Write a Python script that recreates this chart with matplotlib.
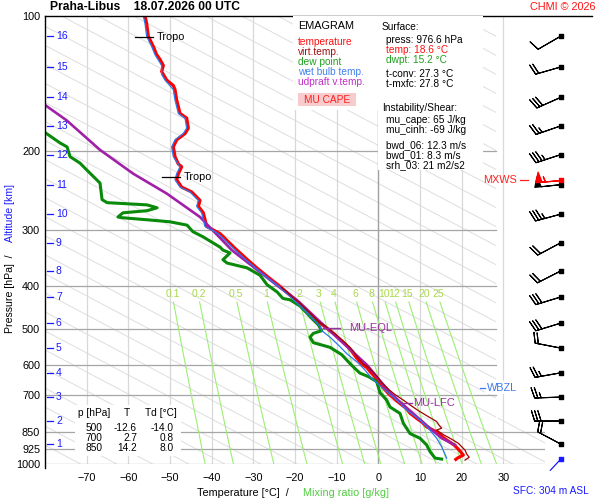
import numpy as np
import matplotlib
matplotlib.use("Agg")
import matplotlib.pyplot as plt
from matplotlib.patches import Polygon, Rectangle
from matplotlib.lines import Line2D
from matplotlib.transforms import blended_transform_factory

plt.rcParams['font.family'] = ['Liberation Sans', 'DejaVu Sans']

# ---- sounding data ----
temp_p = [976.6, 970, 955, 931, 907, 899, 884, 870, 850, 826, 808, 791, 770, 750, 738, 720,
          700, 683, 666, 655, 639, 625, 610, 598, 577, 560, 549, 534, 515, 497, 482, 460,
          437, 420, 403, 383, 366, 350, 330, 306, 295, 275, 266, 258, 247, 241, 232, 225,
          217, 214, 206, 196, 189, 183, 178, 169, 168, 165, 154, 146, 143, 139, 135, 133,
          129, 125, 122, 117, 111, 104, 100]
temp_t = [18.6, 19.0, 20.4, 19.4, 18.2, 17.6, 16.4, 15.4, 14.2, 11.6, 10.6, 9.2, 7.6, 6.6, 5.6, 4.2,
          2.7, 1.6, 0.6, -0.1, -0.8, -1.8, -2.7, -4.0, -5.4, -6.4, -7.2, -8.5, -10.4, -12.4, -14.4, -16.6,
          -19.0, -21.2, -23.4, -26.4, -29.0, -31.4, -34.4, -38.0, -41.2, -42.0, -43.2, -42.8, -44.8, -47.2, -48.4, -48.0,
          -47.2, -48.0, -48.8, -49.2, -48.4, -46.4, -45.6, -46.0, -46.4, -47.6, -48.4, -48.8, -49.2, -50.8, -51.6, -52.0,
          -51.6, -52.4, -53.2, -54.0, -55.2, -55.6, -56.0]

virt_p = [980, 966, 950, 931, 899, 876, 860, 840, 832, 820, 804, 784, 760, 738, 720, 700, 683,
          666, 655, 639, 625, 610, 598, 577, 560, 549, 534, 515, 497, 482, 460, 437, 420, 403]
virt_t = [20.8, 21.8, 21.2, 20.8, 19.2, 17.2, 15.6, 14.0, 15.2, 14.6, 14.0, 12.0, 9.6, 7.6, 6.0, 4.0, 2.6,
          1.4, 0.6, -0.2, -1.2, -2.2, -3.6, -5.0, -6.0, -6.8, -8.2, -10.1, -12.1, -14.2, -16.4, -18.9, -21.1, -23.3]

dwpt_p = [975, 970, 938, 907, 876, 855, 811, 771, 746, 720, 693, 655, 638, 627, 617, 602, 586, 570,
          549, 536, 521, 511, 504, 489, 477, 460, 444, 430, 427, 413, 398, 379, 365, 356, 350, 338,
          333, 328, 311, 303, 293, 288, 285, 282, 281, 275, 272, 268, 264, 261, 257, 236, 221, 213,
          206, 196, 192, 182]
dwpt_t = [15.2, 13.6, 12.4, 11.6, 10.0, 7.6, 6.0, 5.2, 2.8, 2.0, 0.4, -0.4, -2.4, -4.4, -5.2, -6.4, -7.6, -8.8,
          -11.6, -15.6, -16.4, -15.6, -13.6, -14.4, -15.6, -17.2, -18.8, -21.2, -22.9, -24.3, -26.7, -28.4, -31.5, -36.3, -37.3, -35.6,
          -37.3, -38.0, -42.1, -44.5, -45.9, -50.0, -55.5, -61.5, -62.5, -61.3, -55.5, -53.1, -55.5, -65.1, -66.3, -66.8, -69.9, -71.6,
          -74.0, -74.7, -76.4, -80.0]

wetb_p = [970, 915, 876, 832, 798, 758, 720, 684, 644, 617, 595, 567, 547, 521, 504, 493, 467, 440,
          420, 403, 383, 350, 330, 306, 295, 275, 266, 258, 247, 241, 232, 225, 217, 206, 196, 189,
          183, 178, 169, 165, 154, 146, 139, 135, 129, 122, 117, 111, 104, 100]
wetb_t = [16.4, 15.2, 14.0, 12.0, 10.0, 6.8, 4.4, 1.6, -1.6, -3.2, -4.8, -7.6, -9.2, -11.6, -13.6, -14.0, -16.4, -19.2,
          -21.5, -23.7, -26.8, -31.8, -34.8, -38.4, -41.6, -42.4, -43.6, -43.2, -45.2, -47.6, -48.8, -48.4, -47.6, -49.2, -49.6, -48.8,
          -46.8, -46.0, -46.4, -48.0, -48.8, -49.2, -51.2, -52.0, -52.0, -53.6, -54.4, -55.6, -56.0, -56.4]

parcel_p = [907, 876, 826, 738, 693, 600, 497, 430, 404, 333, 281, 249, 225, 199, 171, 158]
parcel_t = [18.4, 15.2, 12.0, 6.0, 2.8, -2.8, -12.4, -19.6, -23.6, -35.2, -42.8, -50.8, -58.8, -66.8, -74.8, -80.0]

# wind per km of altitude
km_levels = list(range(1, 17))
km_p = [902, 802, 709, 626, 551, 485, 424, 371, 321, 277, 238, 204, 176, 152, 130, 111]
wind_dir = [298, 270, 268, 260, 281, 253, 253, 243, 242, 255, 264, 252, 251, 246, 254, 240]
wind_kt = [20, 30, 25, 25, 20, 30, 30, 20, 20, 35, 50, 35, 25, 30, 20, 10]
mxws_p, mxws_dir, mxws_kt = 232, 265, 55
sfc_p, sfc_dir = 976.6, 223

p_levels = [100, 200, 300, 400, 500, 600, 700, 850, 925, 1000]
t_ticks = list(range(-70, 31, 10))
mix_ratios = [0.1, 0.2, 0.5, 1, 2, 3, 4, 6, 8, 10, 12, 15, 20, 25]
tropo_p = [111.4, 229.0]
eql_p, lfc_p, wbzl_p = 497, 731, 676

tbl_p = [500, 700, 850]
tbl_t = [-12.6, 2.7, 14.2]
tbl_td = [-14.0, 0.8, 8.0]

# ---- figure ----
W, H = 600, 500
fig = plt.figure(figsize=(6, 5), dpi=100)
fig.patch.set_facecolor('white')


def fx(x):
    return x / W


def fy(y):
    return 1 - y / H


ax = fig.add_axes([fx(45), fy(464), 500 / W, 448 / H])
ax.set_yscale('log')
ax.set_xlim(-80, 40)
ax.set_ylim(1000, 100)
for s in ax.spines.values():
    s.set_visible(False)
ax.set_yticks(p_levels)
ax.set_yticklabels([str(p) for p in p_levels])
ax.yaxis.set_minor_locator(matplotlib.ticker.NullLocator())
ax.set_xticks(t_ticks)
ax.tick_params(axis='y', length=0, pad=3.5, labelsize=7.8)
ax.tick_params(axis='x', length=0, pad=6.5, labelsize=7.8)

clip = Polygon([(-80, 100), (28.2, 100), (28.2, 790), (40, 790), (40, 1000), (-80, 1000)],
               closed=True, transform=ax.transData, fill=False)

# diagonal background lines
for k in range(-40, 40):
    c = 1.1045 + k * 0.0425
    ln, = ax.plot([0, 1], [c, c - 0.59], transform=ax.transAxes, color='#dedede', lw=0.7, zorder=1)
    ln.set_clip_path(clip)

# isotherms
for t in t_ticks:
    ax.plot([t, t], [100, 1000], color='#a0a0a0' if t == 0 else '#d8d8d8',
            lw=1.0 if t == 0 else 0.9, zorder=1.2)

# isobars
for p in p_levels[1:]:
    xr = 28.2 if p <= 700 else 40
    ax.plot([-80, xr], [p, p], color='#a6a6a6', lw=0.9, zorder=1.3)

# mixing ratio lines
pp = np.linspace(435, 1000, 40)
for w in mix_ratios:
    e = w * pp / (622 + w)
    a = np.log(e / 6.112)
    td = 243.5 * a / (17.67 - a)
    ax.plot(td, pp, color='#9cee74', lw=0.8, zorder=1.4)
    e0 = w * 425 / (622 + w)
    a0 = np.log(e0 / 6.112)
    ax.text(243.5 * a0 / (17.67 - a0), 417, f'{w:g}', color='#a8d84c', fontsize=7.5,
            ha='center', va='center', zorder=2)

# profiles
ax.plot(temp_t, temp_p, color='#ff0000', lw=2.3, zorder=3, solid_joinstyle='round')
ax.plot(dwpt_t, dwpt_p, color='#0a8a0a', lw=2.2, zorder=3, solid_joinstyle='round')
ax.plot(parcel_t, parcel_p, color='#a020a8', lw=1.9, zorder=4)
ax.plot(wetb_t, wetb_p, color='#2a78f0', lw=0.9, zorder=5)
ax.plot(virt_t, virt_p, color='#a00000', lw=0.9, zorder=5)

# level annotations
for pt, (t0, t1) in zip(tropo_p, [(-58.4, -54.0), (-51.9, -47.6)]):
    ax.plot([t0, t1], [pt, pt], color='k', lw=0.9, zorder=6)
    ax.text(t1 + 0.9, pt, 'Tropo', fontsize=7.8, va='center', zorder=6)
ax.plot([-13.3, -9.2], [eql_p, eql_p], color='#9a30a0', lw=1.0, zorder=6)
ax.text(-7.0, eql_p, 'MU-EQL', color='#9a30a0', fontsize=8, va='center', zorder=6)
ax.plot([5.2, 8.1], [lfc_p, lfc_p], color='#9a30a0', lw=1.0, zorder=6)
ax.text(8.4, lfc_p, 'MU-LFC', color='#9a30a0', fontsize=8, va='center', zorder=6)
ax.text(26.0, wbzl_p, 'WBZL', color='#3a78f0', fontsize=7.8, va='center', zorder=6,
        bbox=dict(facecolor='white', edgecolor='none', pad=1.2))
ax.plot([24.4, 25.6], [wbzl_p, wbzl_p], color='#3a78f0', lw=0.9, zorder=7)
ax.text(33.3, mxws_p, 'MXWS', color='#ff2020', fontsize=7.8, va='center', ha='right', zorder=6)
ax.plot([34.0, 35.9], [mxws_p, mxws_p], color='#ff2020', lw=0.9, zorder=6)

# altitude ticks
bt = blended_transform_factory(ax.transAxes, ax.transData)
for km, p in zip(km_levels, km_p):
    ax.plot([0.004, 0.016], [p, p], transform=bt, color='#1a1aff', lw=0.9, zorder=6)
    ax.text(0.022, p, str(km), transform=bt, color='#1a1aff', fontsize=7.5, va='center', zorder=6)

# frame lines
fig.add_artist(Line2D([fx(45), fx(45)], [fy(16), fy(468)], color='k', lw=1.0))
fig.add_artist(Line2D([fx(45), fx(592)], [fy(16), fy(16)], color='k', lw=1.0))

# wind barbs
bax = fig.add_axes([fx(522), fy(464), 78 / W, 448 / H])
bax.set_yscale('log')
bax.set_ylim(1000, 100)
bax.set_xlim(0, 78)
bax.axis('off')
d = np.radians(wind_dir)
u = -np.array(wind_kt) * np.sin(d)
v = -np.array(wind_kt) * np.cos(d)
xs = np.full(len(km_p), 38.5)
bax.barbs(xs, km_p, u, v, length=6.1, color='k', linewidth=0.8, zorder=3)
bax.scatter(xs, km_p, marker='s', s=5, color='k', zorder=4)
dm = np.radians(mxws_dir)
bax.barbs([38.5], [mxws_p], [-mxws_kt * np.sin(dm)], [-mxws_kt * np.cos(dm)],
          length=6.1, color='#ff0000', linewidth=0.9, zorder=5)
bax.scatter([38.5], [mxws_p], marker='s', s=5, color='#ff0000', zorder=6)
ds = np.radians(sfc_dir)
bax.annotate('', xy=(38.5, sfc_p), xytext=(15 * np.sin(ds), 15 * np.cos(ds)),
             textcoords='offset pixels',
             arrowprops=dict(arrowstyle='-', color='#1a1aff', lw=0.9, shrinkA=0, shrinkB=0))
bax.scatter([38.5], [sfc_p], marker='s', s=5, color='#1a1aff', zorder=6)

# legend box
fig.add_artist(Rectangle((fx(293), fy(110)), 85 / W, 94 / H, transform=fig.transFigure,
                         facecolor='white', edgecolor='none', zorder=2))
fig.text(fx(298), fy(26), 'EMAGRAM', fontsize=7.8, va='center', zorder=4)
legend_items = [('temperature', '#ff1010'), ('virt.temp.', '#a01010'), ('dew point', '#20a020'),
                ('wet bulb temp.', '#4080f0'), ('udpraft v.temp.', '#c030c8')]
for i, (lab, col) in enumerate(legend_items):
    fig.text(fx(298), fy(42 + 10 * i), lab, color=col, fontsize=7.3, va='center', zorder=4)
fig.add_artist(Rectangle((fx(298), fy(106)), 58 / W, 13 / H, transform=fig.transFigure,
                         facecolor='#f8cccc', edgecolor='none', zorder=3))
fig.text(fx(327), fy(100), 'MU CAPE', color='#ff2020', fontsize=7.3, va='center', ha='center', zorder=4)

# info box
fig.add_artist(Rectangle((fx(378), fy(170)), 105 / W, 154 / H, transform=fig.transFigure,
                         facecolor='white', edgecolor='none', zorder=2))
info = [(382, 27, 'Surface:', 'k'), (386, 40, 'press: 976.6 hPa', 'k'),
        (386, 50, 'temp: 18.6 °C', '#ff1010'), (386, 60, 'dwpt: 15.2 °C', '#20a020'),
        (386, 74, 't-conv: 27.3 °C', 'k'), (386, 84, 't-mxfc: 27.8 °C', 'k'),
        (382, 108, 'Instability/Shear:', 'k'), (386, 120, 'mu_cape: 65 J/kg', 'k'),
        (386, 130, 'mu_cinh: -69 J/kg', 'k'), (386, 145, 'bwd_06: 12.3 m/s', 'k'),
        (386, 155, 'bwd_01: 8.3 m/s', 'k'), (386, 165, 'srh_03: 21 m2/s2', 'k')]
for x, y, s, c in info:
    fig.text(fx(x), fy(y), s, color=c, fontsize=7.3, va='center', zorder=4)

# level table
fig.add_artist(Rectangle((fx(75), fy(456)), 106 / W, 51 / H, transform=fig.transFigure,
                         facecolor='white', edgecolor='none', zorder=2))
fig.text(fx(78), fy(413), 'p [hPa]', fontsize=7.3, va='center', zorder=4)
fig.text(fx(127), fy(413), 'T', fontsize=7.3, va='center', ha='center', zorder=4)
fig.text(fx(145), fy(413), 'Td [°C]', fontsize=7.3, va='center', zorder=4)
for i, (p, t, td) in enumerate(zip(tbl_p, tbl_t, tbl_td)):
    y = 428 + 10 * i
    fig.text(fx(102), fy(y), str(p), fontsize=7.3, va='center', ha='right', zorder=4)
    fig.text(fx(137), fy(y), f'{t:.1f}', fontsize=7.3, va='center', ha='right', zorder=4)
    fig.text(fx(174), fy(y), f'{td:.1f}', fontsize=7.3, va='center', ha='right', zorder=4)

# titles and labels
fig.text(fx(50), fy(7), 'Praha-Libus    18.07.2026 00 UTC', fontsize=8.7, weight='bold', va='center')
fig.text(fx(596), fy(7), 'CHMI © 2026', fontsize=7.8, color='#ff1010', va='center', ha='right')
fig.text(fx(10), fy(333), 'Pressure [hPa]  /', fontsize=7.6, rotation=90, va='bottom', ha='center')
fig.text(fx(10), fy(242), 'Altitude [km]', fontsize=7.6, rotation=90, va='bottom', ha='center', color='#1a1aff')
fig.text(fx(197), fy(493), 'Temperature [°C]  /', fontsize=7.8, va='center')
fig.text(fx(303), fy(493), 'Mixing ratio [g/kg]', fontsize=7.8, va='center', color='#50cc40')
fig.text(fx(513), fy(491), 'SFC: 304 m ASL', fontsize=7.3, va='center', color='#1a1aff')

fig.savefig('out.png', dpi=100)
